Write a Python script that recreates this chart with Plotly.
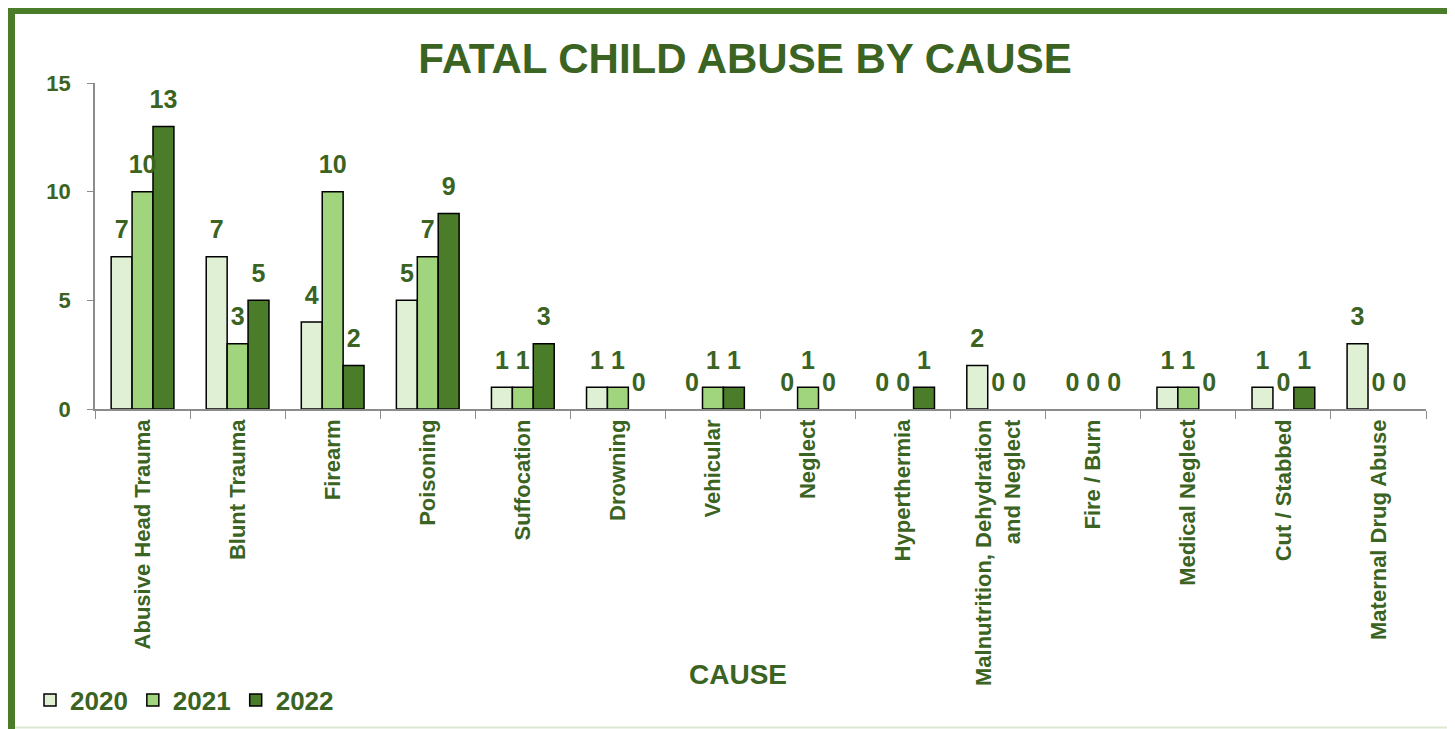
import plotly.graph_objects as go

causes = [
    "Abusive Head Trauma", "Blunt Trauma", "Firearm", "Poisoning", "Suffocation",
    "Drowning", "Vehicular", "Neglect", "Hyperthermia",
    "Malnutrition, Dehydration<br>and Neglect", "Fire / Burn", "Medical Neglect",
    "Cut / Stabbed", "Maternal Drug Abuse",
]
y2020 = [7, 7, 4, 5, 1, 1, 0, 0, 0, 2, 0, 1, 1, 3]
y2021 = [10, 3, 10, 7, 1, 1, 1, 1, 0, 0, 0, 1, 0, 0]
y2022 = [13, 5, 2, 9, 3, 0, 1, 0, 1, 0, 0, 0, 1, 0]

years = ["2020", "2021", "2022"]
colors = ["#dff0d4", "#a0d57d", "#4b7c2a"]
txt = "#3b6322"
font = "Liberation Sans, Arial, sans-serif"

# page body has an 8px margin, so the figure is drawn 8px smaller
OFF = 8
W, H = 1455 - OFF, 729 - OFF

fig = go.Figure()
for name, vals, c in zip(years, [y2020, y2021, y2022], colors):
    fig.add_trace(go.Bar(
        x=causes, y=vals, name=name, offsetgroup=name,
        # no outline on empty bars
        marker=dict(color=c, line=dict(color="black",
                                       width=[1.5 if v else 0 for v in vals])),
    ))
# value labels as grouped text points, so they sit a little higher above the bars
for name, vals in zip(years, [y2020, y2021, y2022]):
    fig.add_trace(go.Scatter(
        x=causes, y=vals, offsetgroup=name, mode="markers+text",
        marker=dict(size=18, opacity=0), text=vals, textposition="top center",
        textfont=dict(family=font, size=25, color=txt, weight="bold"),
        showlegend=False, hoverinfo="skip", cliponaxis=False,
    ))

# plot area in window pixels: x 95..1426, y 83..409
def px_x(p):
    return (p - 95) / 1331

def px_y(p):
    return (409 - p) / 326

fig.update_layout(
    width=W, height=H,
    margin=dict(l=95 - OFF, r=1455 - 1426, t=83 - OFF, b=729 - 409),
    paper_bgcolor="white", plot_bgcolor="white",
    barmode="group", bargap=0.34, bargroupgap=0,
    scattermode="group", scattergap=0.34,
    font=dict(family=font, color=txt),
    title=dict(text="FATAL CHILD ABUSE BY CAUSE", xref="container",
               x=(745 - OFF) / W, xanchor="center", yref="container",
               y=1 - (58 - OFF) / H, yanchor="middle",
               font=dict(family=font, size=42, color=txt, weight="bold")),
    showlegend=True,
    legend=dict(orientation="h", xref="container", yref="container",
                x=(30 - OFF) / W, xanchor="left", y=1 - (700 - OFF) / H,
                yanchor="middle",
                font=dict(family=font, size=26, color=txt, weight="bold"),
                traceorder="normal"),
    xaxis=dict(showline=True, linecolor="#8c8c8c", linewidth=1.5, automargin=False,
               ticks="outside", tickson="boundaries", ticklen=8, tickcolor="#8c8c8c",
               tickangle=-90, showgrid=False,
               tickfont=dict(family=font, size=22, color=txt, weight="bold")),
    yaxis=dict(range=[0, 15], tickvals=[0, 5, 10, 15], showline=True, automargin=False,
               linecolor="#8c8c8c", linewidth=1.5, ticks="outside", ticklen=6,
               tickcolor="#8c8c8c", showgrid=False, zeroline=False,
               ticklabelstandoff=12,
               tickfont=dict(family=font, size=22, color=txt, weight="bold")),
    annotations=[dict(text="CAUSE", xref="paper", yref="paper", x=px_x(738),
                      y=px_y(674), xanchor="center", yanchor="middle",
                      showarrow=False,
                      font=dict(family=font, size=28, color=txt, weight="bold"))],
    shapes=[
        dict(type="line", xref="paper", yref="paper", x0=px_x(11), x1=px_x(11),
             y0=px_y(10), y1=px_y(740), line=dict(color="#4b7c2a", width=8)),
        dict(type="line", xref="paper", yref="paper", x0=px_x(7), x1=px_x(1470),
             y0=px_y(10), y1=px_y(10), line=dict(color="#4b7c2a", width=8)),
        dict(type="line", xref="paper", yref="paper", x0=px_x(15), x1=px_x(1470),
             y0=px_y(727.5), y1=px_y(727.5), line=dict(color="#dbe8d2", width=2)),
    ],
)

fig.write_html("out.html")
